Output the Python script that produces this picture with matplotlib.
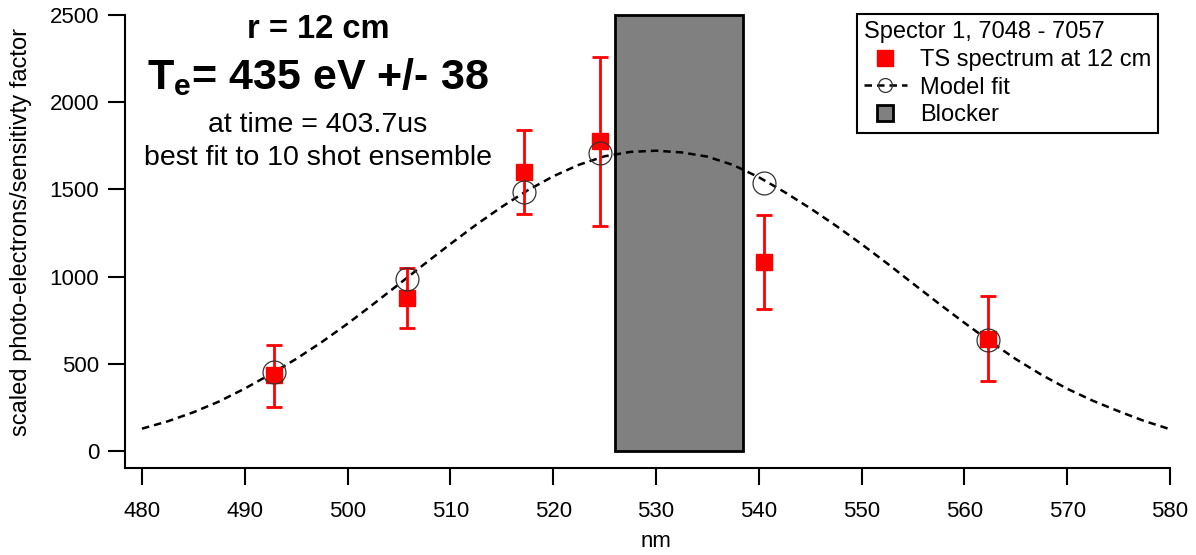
import matplotlib
matplotlib.use("Agg")
import matplotlib.pyplot as plt
from matplotlib.lines import Line2D
import numpy as np

plt.rcParams['font.family'] = ['Liberation Sans', 'DejaVu Sans']
plt.rcParams['mathtext.fontset'] = 'custom'
plt.rcParams['mathtext.rm'] = 'Liberation Sans:bold'
plt.rcParams['mathtext.it'] = 'Liberation Sans:bold'
plt.rcParams['mathtext.bf'] = 'Liberation Sans:bold'

# TS spectrum points
ts_nm = [492.8, 505.8, 517.2, 524.6, 540.5, 562.3]
ts_counts = [436, 877, 1601, 1779, 1085, 640]
ts_err_low = [254, 705, 1359, 1290, 812, 401]
ts_err_high = [608, 1049, 1841, 2261, 1353, 887]

# model fit at the measured wavelengths
fit_counts = [455, 985, 1487, 1709, 1538, 636]

# model fit curve
curve_nm = [480, 482.5, 485, 487.5, 490, 492.5, 495, 497.5, 500, 502.5,
            505, 507.5, 510, 512.5, 515, 517.5, 520, 522.5, 525, 527.5,
            530, 532.5, 535, 537.5, 540, 542.5, 545, 547.5, 550, 552.5,
            555, 557.5, 560, 562.5, 565, 567.5, 570, 572.5, 575, 577.5, 580]
curve_counts = [128, 170, 222, 284, 358, 440, 528, 625, 730, 842,
                957, 1073, 1187, 1297, 1400, 1494, 1575, 1641, 1690, 1715,
                1722, 1712, 1688, 1640, 1570, 1485, 1392, 1292, 1186, 1075,
                960, 846, 735, 628, 527, 437, 357, 288, 228, 172, 125]

# blocker region
blocker_start = 526.0
blocker_end = 538.5
blocker_top = 2500

fig = plt.figure(figsize=(11.96, 5.55), dpi=100)
ax = fig.add_axes([125/1196, 1 - 468/555, 1045/1196, 453/555])

ax.bar(blocker_start, blocker_top, width=blocker_end - blocker_start, bottom=0,
       align='edge', color='#808080', edgecolor='black', linewidth=2, zorder=1, clip_on=False)

ax.plot(curve_nm, curve_counts, color='black', lw=1.8, linestyle=(0, (3, 2)), zorder=2, clip_on=False)

ts = np.array(ts_counts)
yerr = [ts - np.array(ts_err_low), np.array(ts_err_high) - ts]
ax.errorbar(ts_nm, ts_counts, yerr=yerr, fmt='none', ecolor='red', elinewidth=2,
            capsize=5.5, capthick=2, zorder=3)
ax.plot(ts_nm, ts_counts, 's', color='red', ms=11, zorder=4)
ax.plot(ts_nm, fit_counts, 'o', mfc='none', mec='#333333', mew=0.9, ms=16.5, zorder=5)

ax.set_xlim(478.35, 580)
ax.set_ylim(-97.5, 2500)
ax.set_xticks(np.arange(480, 581, 10))
ax.set_yticks(np.arange(0, 2501, 500))
for s in ['top', 'right']:
    ax.spines[s].set_visible(False)
for s in ['left', 'bottom']:
    ax.spines[s].set_linewidth(1.5)
ax.tick_params(direction='out', length=12.5, width=1.5, labelsize=16)
ax.tick_params(axis='x', pad=11)
ax.tick_params(axis='y', pad=6)

ax.set_xlabel('nm', fontsize=16)
ax.xaxis.set_label_coords(0.508, -0.138)
ax.set_ylabel('scaled photo-electrons/sensitivty factor', fontsize=17)
ax.yaxis.set_label_coords(-0.089, 0.52)

# annotation block
tx = (318 - 125) / 1045
ax.text(tx, 0.969, 'r = 12 cm', transform=ax.transAxes, ha='center', va='center',
        fontsize=23.5, fontweight='bold')
ax.text(tx, 0.862, r'$\mathbf{T_e}$= 435 eV +/- 38', transform=ax.transAxes, ha='center',
        va='center', fontsize=31, fontweight='bold')
ax.text(tx, 0.757, 'at time = 403.7us', transform=ax.transAxes, ha='center', va='center',
        fontsize=20.5)
ax.text(tx, 0.684, 'best fit to 10 shot ensemble', transform=ax.transAxes, ha='center',
        va='center', fontsize=20.5)

handles = [
    Line2D([], [], marker='s', color='red', ms=11, linestyle='none'),
    Line2D([], [], color='black', lw=1.8, linestyle=(0, (3, 2)), marker='o',
           mfc='none', mec='#333333', mew=0.9, ms=10),
    Line2D([], [], marker='s', mfc='#808080', mec='black', mew=2, ms=11, linestyle='none'),
]
labels = ['TS spectrum at 12 cm', 'Model fit', 'Blocker']
leg = ax.legend(handles, labels, title='Spector 1, 7048 - 7057', loc='upper right',
                bbox_to_anchor=(0.9885, 1.002), borderaxespad=0, fontsize=17,
                title_fontsize=17, alignment='left', fancybox=False, framealpha=1,
                edgecolor='black', handlelength=1.8, handletextpad=0.55,
                labelspacing=0.24, borderpad=0.3, numpoints=1)
leg.get_frame().set_linewidth(1.5)

fig.savefig('out.png', dpi=100)
